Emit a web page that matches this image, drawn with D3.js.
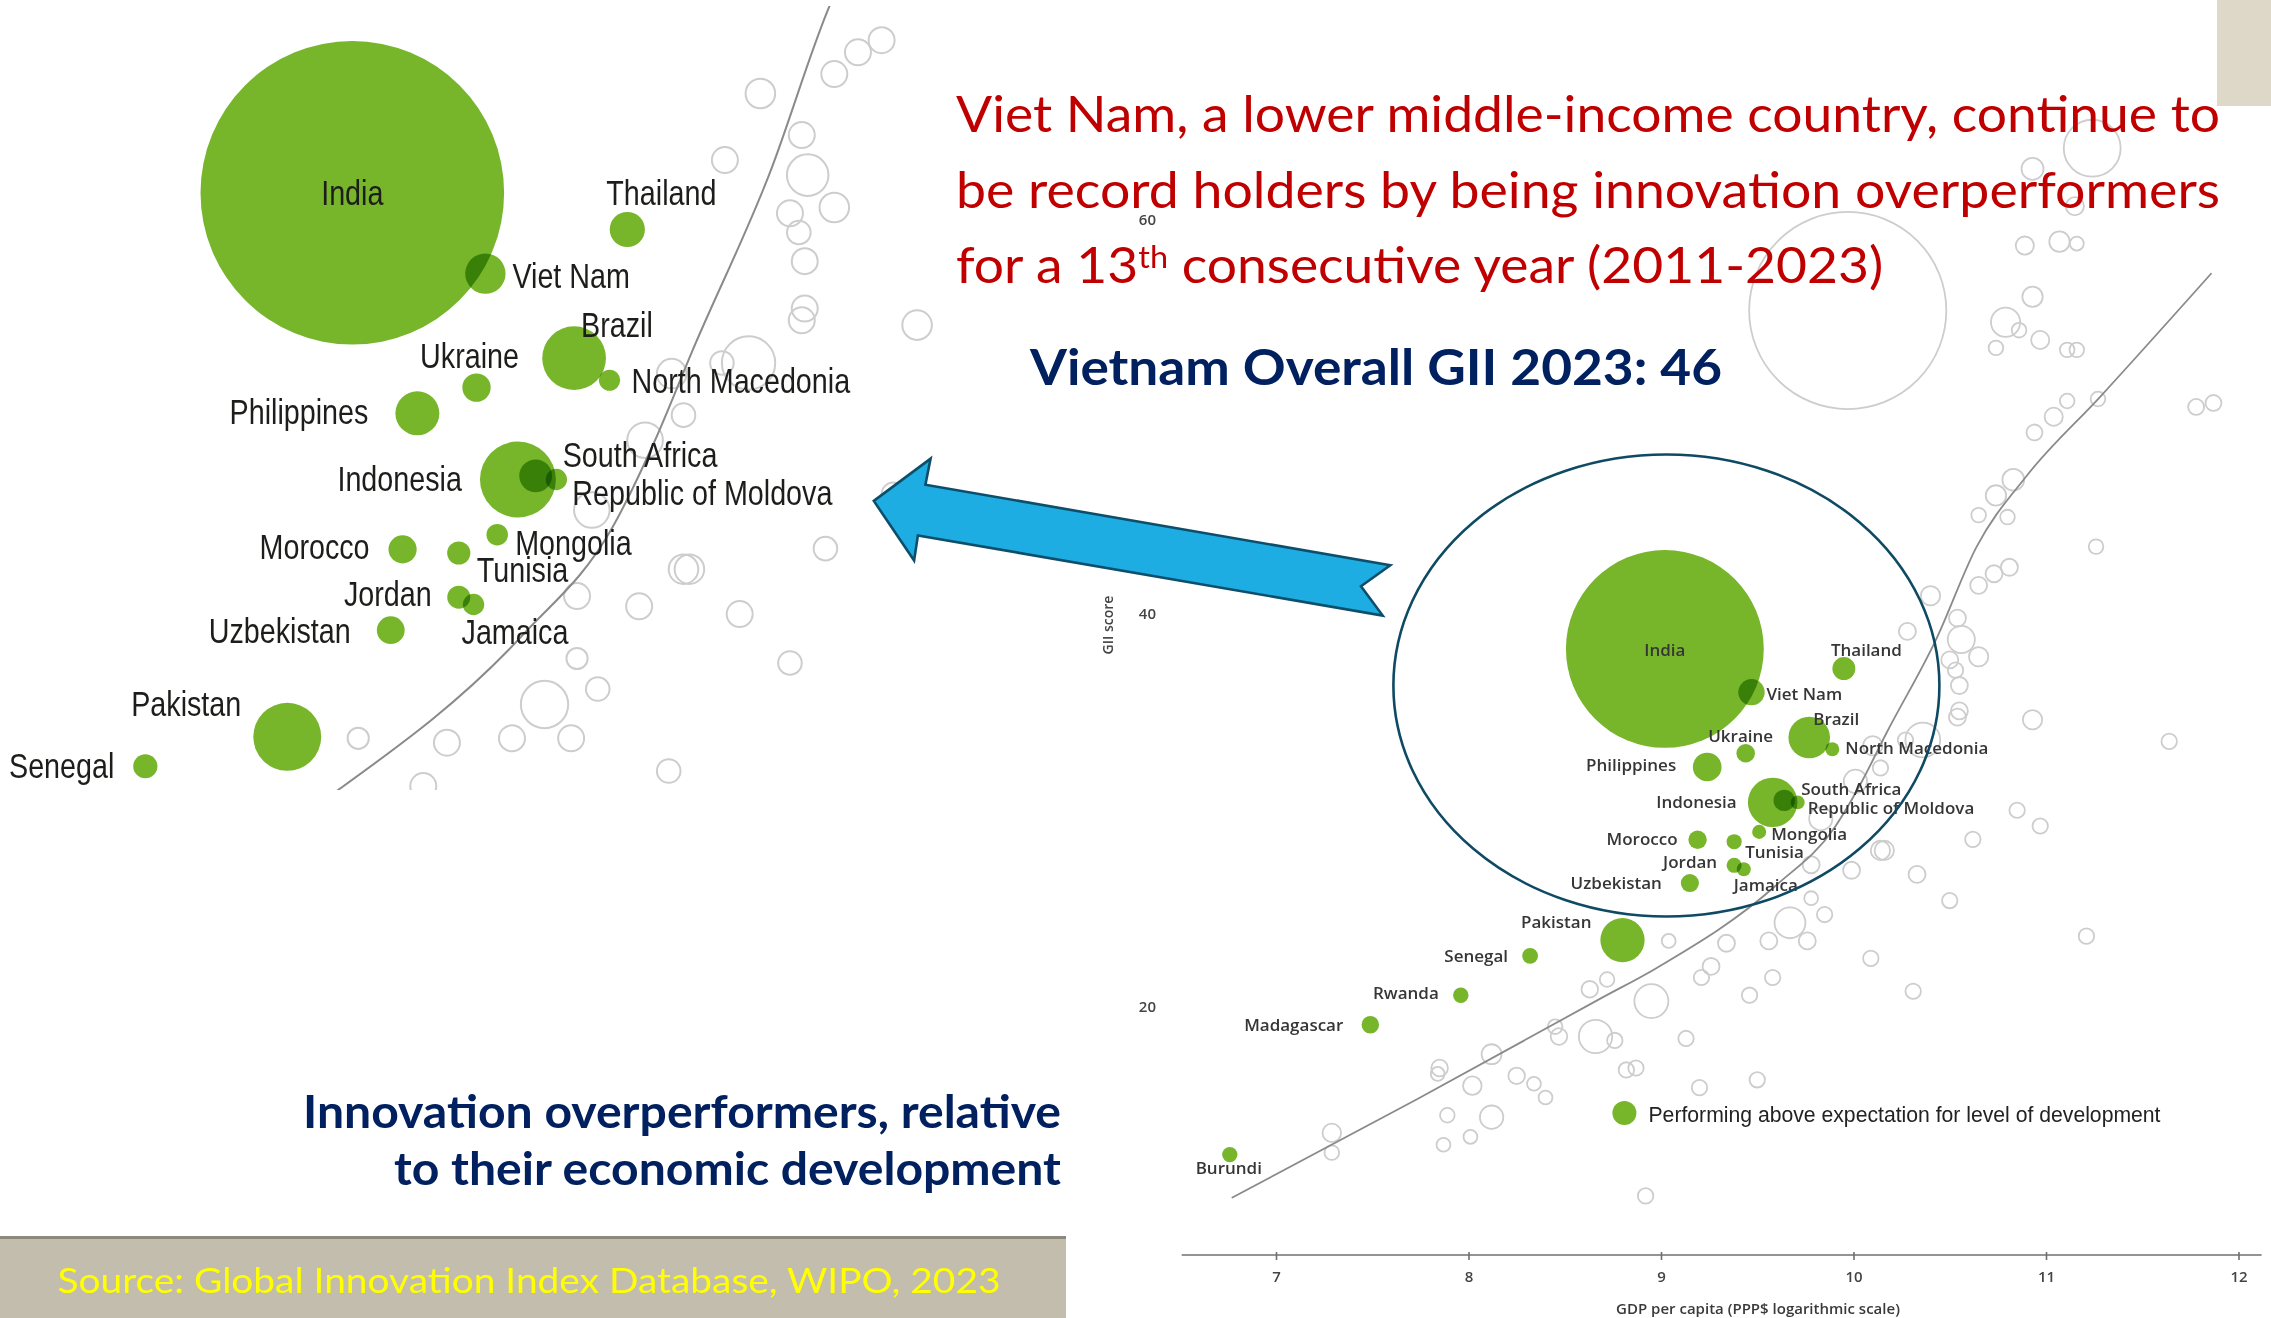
<!DOCTYPE html>
<html>
<head>
<meta charset="utf-8">
<script src="https://cdn.jsdelivr.net/npm/d3@7"></script>
<style>
  body { margin: 0; background: #fff; }
  svg { display: block; }
</style>
</head>
<body>
<div id="root"></div>
<script>
// economies performing above expectation (green bubbles)
const countries = ["India", "Thailand", "Viet Nam", "Brazil", "North Macedonia", "Ukraine", "Philippines",
  "Indonesia", "South Africa", "Republic of Moldova", "Mongolia", "Morocco", "Tunisia", "Jordan", "Jamaica",
  "Uzbekistan", "Pakistan", "Senegal", "Rwanda", "Madagascar", "Burundi"]
const gdpLog = [9.02, 9.95, 9.47, 9.77, 9.89, 9.44, 9.24, 9.58, 9.64, 9.71, 9.51, 9.19, 9.38, 9.38, 9.43,
  9.15, 8.80, 8.32, 7.96, 7.49, 6.76]
const giiScore = [38.2, 37.2, 36.0, 33.7, 33.1, 32.9, 32.2, 30.4, 30.5, 30.4, 28.9, 28.5, 28.4, 27.2, 27.0,
  26.3, 23.4, 22.6, 20.6, 19.1, 12.5]
const population = [1417, 72, 98, 215, 2.1, 38, 116, 276, 60, 2.6, 3.4, 37, 12, 11, 2.8,
  35, 236, 17, 14, 30, 13]

// other economies (hollow grey bubbles)
const otherGdpLog = [10.81, 10.73, 10.65, 10.40, 10.54, 10.28, 10.56, 10.65, 10.50, 10.53, 10.55, 10.55, 10.93,
  10.54, 10.36, 10.27, 10.10, 10.14, 10.01, 9.83, 10.62, 10.14, 10.16, 9.99, 9.78, 10.33, 10.50, 9.78, 9.85,
  9.67, 9.56, 9.76, 9.34, 9.04, 10.09, 9.26,
  10.85, 10.97, 11.64, 11.21, 10.31, 9.21, 9.58, 9.46, 8.95, 9.13, 8.87, 8.82, 9.50, 8.92, 9.20, 8.76,
  9.97, 11.24, 10.93, 11.15, 10.89, 11.07, 11.16, 10.93, 10.79, 10.86, 10.97, 10.74, 11.11, 11.16, 11.87,
  11.78, 11.11, 11.04, 10.94, 11.27, 10.83, 10.74, 10.80, 10.65, 11.26,
  8.63, 8.72, 8.66, 8.47, 8.45, 8.12, 7.85, 7.84, 8.02, 8.25, 8.34, 8.40, 7.89, 8.12, 8.01, 7.87, 7.29, 7.29]
const otherScore = [42.35, 42.02, 41.43, 40.9, 39.77, 39.09, 38.68, 37.8, 37.64, 37.12, 36.34, 35.05, 34.6,
  34.73, 33.57, 33.57, 33.28, 32.15, 31.47, 29.57, 28.52, 27.96, 27.96, 26.95, 27.23, 26.74, 25.41, 25.53, 24.7,
  24.28, 23.36, 23.36, 23.24, 23.36, 22.47, 22.06,
  30.0, 29.2, 33.5, 23.6, 20.8, 21.5, 21.5, 20.6, 20.3, 18.4, 16.9, 16.8, 16.3, 10.4, 15.9, 18.3,
  55.4, 63.65, 62.6, 60.7, 58.7, 58.9, 58.8, 56.1, 54.8, 54.4, 53.9, 53.5, 53.4, 53.4, 50.7,
  50.5, 50.8, 50.0, 49.2, 50.9, 46.8, 46.0, 44.9, 45.0, 43.4,
  20.9, 21.4, 18.5, 18.5, 19.0, 17.6, 16.9, 16.6, 16.0, 16.5, 16.1, 15.4, 14.5, 14.4, 13.4, 13.0, 13.6, 12.6]
const otherPop = [26, 26, 26, 44, 26, 26, 104, 44, 26, 14, 26, 26, 44,
  26, 163, 14, 44, 14, 74, 74, 14, 44, 44, 26, 26, 26, 14, 2, 14,
  133, 26, 26, 26, 2, 14, 26,
  14, 14, 14, 14, 14, 14, 14, 14, 157, 14, 14, 14, 14, 14, 14, 14,
  1412, 333, 65, 35, 35, 52, 2, 52, 120, 8, 35, 8, 8, 8, 18,
  18, 8, 35, 18, 8, 63, 52, 8, 8, 8,
  23, 8, 152, 23, 8, 49, 23, 2, 38, 23, 2, 2, 8, 75, 2, 2, 38, 8]

// expected-performance trend line
const trendGdpLog = [6.77, 7.73, 8.68, 8.98, 9.60, 9.90, 10.04, 10.17, 10.43, 10.64, 10.90, 11.28, 11.86]
const trendScore = [10.3, 15.3, 20.4, 22.0, 26.2, 29.1, 31.4, 33.9, 38.7, 43.4, 47.0, 51.0, 57.3]

const xTicks = [7, 8, 9, 10, 11, 12]
const yTicks = [20, 40, 60]
const xAxisExtent = [6.51, 12.12]

// label placement (dx, dy from bubble centre, anchor) for both charts
const labelLeft = {
  "India": [0, 12, "middle"], "Thailand": [-21, -25, "start"], "Viet Nam": [27, 14, "start"],
  "Brazil": [7, -21, "start"], "North Macedonia": [22, 13, "start"], "Ukraine": [-7, -20, "middle"],
  "Philippines": [-49, 11, "end"], "Indonesia": [-56, 12, "end"], "South Africa": [27, -9, "start"],
  "Republic of Moldova": [16, 26, "start"], "Mongolia": [18, 20, "start"], "Morocco": [-33, 10, "end"],
  "Tunisia": [18, 29, "start"], "Jordan": [-27, 9, "end"], "Jamaica": [-12, 40, "start"],
  "Uzbekistan": [-40, 13, "end"], "Pakistan": [-46, -21, "end"], "Senegal": [-31, 12, "end"]
}
const labelRight = {
  "India": [0, 7, "middle"], "Thailand": [-13, -13, "start"], "Viet Nam": [15, 8, "start"],
  "Brazil": [4, -12, "start"], "North Macedonia": [13, 5, "start"], "Ukraine": [-5, -11, "middle"],
  "Philippines": [-31, 4, "end"], "Indonesia": [-36, 6, "end"], "South Africa": [17, -5, "start"],
  "Republic of Moldova": [10, 12, "start"], "Mongolia": [12, 8, "start"], "Morocco": [-20, 5, "end"],
  "Tunisia": [11, 16, "start"], "Jordan": [-17, 3, "end"], "Jamaica": [-10, 22, "start"],
  "Uzbekistan": [-28, 6, "end"], "Pakistan": [-31, -12, "end"], "Senegal": [-22, 6, "end"],
  "Rwanda": [-22, 4, "end"], "Madagascar": [-27, 6, "end"], "Burundi": [-1, 19, "middle"]
}

const GREEN = "#77b52b"
const W = 2271, H = 1318

const svg = d3.select("#root").append("svg")
  .attr("width", W)
  .attr("height", H)
svg.append("rect").attr("width", W).attr("height", H).attr("fill", "#fff")

// squeeze a text element to a given width (fonts here are wider than the original ones)
function fit(sel, width) {
  sel.attr("textLength", width).attr("lengthAdjust", "spacingAndGlyphs")
  return sel
}
function squeeze(sel, k) {
  sel.each(function () {
    const w = this.getComputedTextLength()
    d3.select(this).attr("textLength", w * k).attr("lengthAdjust", "spacingAndGlyphs")
  })
}

// one bubble chart, drawn with its own scales
function drawBubbles(g, x, y, r, opt) {
  const others = d3.range(otherGdpLog.length)
  g.append("g").selectAll("circle").data(others).join("circle")
    .attr("cx", i => x(otherGdpLog[i]))
    .attr("cy", i => y(otherScore[i]))
    .attr("r", i => r(otherPop[i]))
    .attr("fill", "none")
    .attr("stroke", "#cdcdcd")
    .attr("stroke-width", opt.ring)

  const line = d3.line()
    .x(d => x(d[0]))
    .y(d => y(d[1]))
    .curve(d3.curveMonotoneX)
  g.append("path")
    .datum(trendGdpLog.map((v, i) => [v, trendScore[i]]))
    .attr("d", line)
    .attr("fill", "none")
    .attr("stroke", "#8a8a8a")
    .attr("stroke-width", opt.lineW)

  const idx = d3.range(countries.length)
    .filter(i => opt.labels[countries[i]] !== undefined || opt.all)
    .sort((a, b) => population[b] - population[a])
  g.append("g").selectAll("circle").data(idx).join("circle")
    .attr("cx", i => x(gdpLog[i]))
    .attr("cy", i => y(giiScore[i]))
    .attr("r", i => r(population[i]))
    .attr("fill", GREEN)
    .style("mix-blend-mode", "multiply")

  const labs = g.append("g")
    .attr("font-family", opt.font)
    .attr("font-size", opt.size)
    .attr("font-weight", opt.weight)
    .attr("fill", opt.color)
  countries.forEach((name, i) => {
    const p = opt.labels[name]
    if (!p) return
    labs.append("text")
      .attr("x", x(gdpLog[i]) + p[0])
      .attr("y", y(giiScore[i]) + p[1])
      .attr("text-anchor", p[2])
      .text(name)
  })
  if (opt.squeeze) squeeze(labs.selectAll("text"), opt.squeeze)
}

// ---------- right chart (full view) ----------
const xR = d3.scaleLinear().domain([7, 12]).range([1276, 2238.5])
const yR = d3.scaleLinear().domain([20, 60]).range([1007, 220])
const rR = d3.scaleLinear().domain([0, 1417]).range([6.8, 98.9])

const right = svg.append("g")
drawBubbles(right, xR, yR, rR, {
  ring: 1.8, lineW: 1.8, labels: labelRight, all: true,
  font: "'Open Sans', sans-serif", size: 17, weight: 600, color: "#363636"
})

// x axis
const gx = right.append("g")
  .attr("transform", "translate(0,1255)")
  .call(d3.axisBottom(xR).tickValues(xTicks).tickSize(5).tickFormat(d3.format("d")))
gx.select(".domain").remove()
gx.append("line")
  .attr("x1", xR(xAxisExtent[0]))
  .attr("x2", xR(xAxisExtent[1]))
  .attr("stroke", "#6f6f6f")
  .attr("stroke-width", 1.6)
gx.selectAll(".tick line").attr("y1", -3).attr("stroke", "#6f6f6f").attr("stroke-width", 1.6)
gx.selectAll(".tick text")
  .attr("y", 27).attr("dy", 0)
  .attr("font-family", "'Open Sans', sans-serif")
  .attr("font-size", 15)
  .attr("font-weight", 600)
  .attr("fill", "#444")
right.append("text")
  .attr("x", 1758)
  .attr("y", 1314)
  .attr("text-anchor", "middle")
  .attr("font-family", "'Open Sans', sans-serif")
  .attr("font-size", 15)
  .attr("font-weight", 600)
  .attr("fill", "#3a3a3a")
  .text("GDP per capita (PPP$ logarithmic scale)")

// y axis: labels only
const gy = right.append("g")
  .attr("transform", "translate(1156,0)")
  .call(d3.axisLeft(yR).tickValues(yTicks).tickSize(0).tickPadding(0))
gy.select(".domain").remove()
gy.selectAll(".tick text")
  .attr("font-family", "'Open Sans', sans-serif")
  .attr("font-size", 15)
  .attr("font-weight", 600)
  .attr("fill", "#444")
right.append("text")
  .attr("transform", "translate(1113,625) rotate(-90)")
  .attr("text-anchor", "middle")
  .attr("font-family", "'Open Sans', sans-serif")
  .attr("font-size", 14)
  .attr("font-weight", 600)
  .attr("fill", "#444")
  .text("GII score")

// legend
right.append("circle")
  .attr("cx", 1624.4).attr("cy", 1113).attr("r", 12)
  .attr("fill", GREEN)
fit(right.append("text")
  .attr("x", 1648.5).attr("y", 1121.5)
  .attr("font-family", "'Liberation Sans', sans-serif")
  .attr("font-size", 22)
  .attr("fill", "#222")
  .text("Performing above expectation for level of development"), 512)

// highlight ellipse
right.append("ellipse")
  .attr("cx", 1666.4).attr("cy", 685.5)
  .attr("rx", 273).attr("ry", 231)
  .attr("fill", "none")
  .attr("stroke", "#0e4a63")
  .attr("stroke-width", 2.6)

// ---------- left chart (zoomed view of the ellipse) ----------
const xL = d3.scaleLinear().domain([8, 11]).range([50.7, 937.8])
const yL = d3.scaleLinear().domain([20, 40]).range([861.8, 126.6])
const rL = d3.scaleLinear().domain([0, 1417]).range([10.4, 151.8])

svg.append("clipPath").attr("id", "clipL")
  .append("rect").attr("x", 0).attr("y", 6).attr("width", 945).attr("height", 784)
const left = svg.append("g").attr("clip-path", "url(#clipL)")
drawBubbles(left, xL, yL, rL, {
  ring: 2, lineW: 2, labels: labelLeft, all: false,
  font: "'Liberation Sans', Arial, sans-serif", size: 35, weight: 400, color: "#1d1d1b", squeeze: 0.82
})

// ---------- arrow ----------
const arrowPts = [[873.8, 500.9], [930.6, 458.6], [925.4, 484.7], [1390.3, 565.3], [1361, 586.3],
  [1382.7, 615.6], [917.9, 535.4], [914.1, 560.5]]
svg.append("path")
  .attr("d", "M" + arrowPts.map(p => p.join(",")).join("L") + "Z")
  .attr("fill", "#1dade3")
  .attr("stroke", "#0d4f6b")
  .attr("stroke-width", 2.6)
  .attr("stroke-linejoin", "miter")

// ---------- slide texts ----------
svg.append("rect").attr("x", 2217).attr("y", 0).attr("width", 54).attr("height", 106).attr("fill", "#ddd8c7")

const red = svg.append("g")
  .attr("font-family", "Lato, sans-serif")
  .attr("font-size", 51)
  .attr("fill", "#c00000")
const l1 = red.append("text").attr("x", 956).attr("y", 131.5)
  .text("Viet Nam, a lower middle-income country, continue to")
const k = 1264 / l1.node().getComputedTextLength()
fit(l1, 1264)
fit(red.append("text").attr("x", 956).attr("y", 207.5)
  .text("be record holders by being innovation overperformers"), 1264)
// third line with superscript
let cx = 956
const parts = [["for a 13", 51, 283], ["th", 31, 268], [" consecutive year (2011-2023)", 51, 283]]
parts.forEach(p => {
  const t = red.append("text").attr("x", cx).attr("y", p[2]).attr("font-size", p[1])
    .attr("xml:space", "preserve").style("white-space", "pre").text(p[0])
  const w = t.node().getComputedTextLength() * k
  fit(t, w)
  cx += w
})

fit(svg.append("text")
  .attr("x", 1030).attr("y", 385)
  .attr("font-family", "Lato, sans-serif")
  .attr("font-weight", 700)
  .attr("font-size", 50)
  .attr("fill", "#002060")
  .text("Vietnam Overall GII 2023: 46"), 692)

const navy = svg.append("g")
  .attr("font-family", "Lato, sans-serif")
  .attr("font-weight", 700)
  .attr("font-size", 46)
  .attr("fill", "#002060")
  .attr("text-anchor", "end")
fit(navy.append("text").attr("x", 1061).attr("y", 1128).text("Innovation overperformers, relative"), 758)
fit(navy.append("text").attr("x", 1061).attr("y", 1185).text("to their economic development"), 667)

// source bar
svg.append("rect").attr("x", 0).attr("y", 1237).attr("width", 1066).attr("height", 81).attr("fill", "#c3bdad")
svg.append("rect").attr("x", 0).attr("y", 1236).attr("width", 1066).attr("height", 3).attr("fill", "#8d887c")
fit(svg.append("text")
  .attr("x", 57.5).attr("y", 1293)
  .attr("font-family", "Lato, sans-serif")
  .attr("font-size", 35)
  .attr("fill", "#ffff00")
  .text("Source: Global Innovation Index Database, WIPO, 2023"), 943)
</script>
</body>
</html>
